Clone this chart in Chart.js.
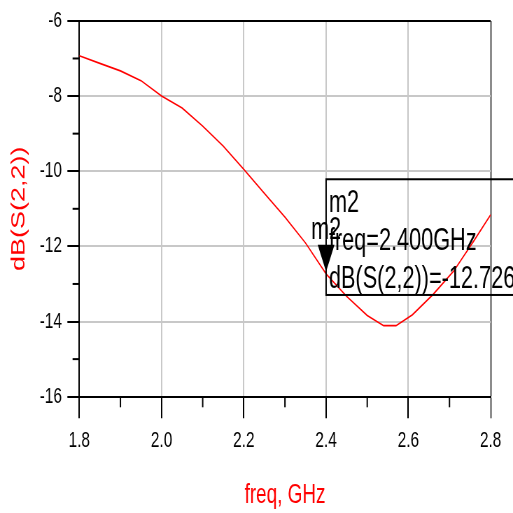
<!DOCTYPE html>
<html>
<head>
<meta charset="utf-8">
<script src="https://cdn.jsdelivr.net/npm/chart.js@4.4.0/dist/chart.umd.min.js"></script>
<style>
html, body { margin: 0; padding: 0; background: #fff; overflow: hidden; }
#wrap { position: absolute; left: 0; top: 0; transform-origin: 0 0; }
</style>
</head>
<body>
<div id="wrap"><canvas id="s22Chart"></canvas></div>
<script>
// datos
const freqGHz = [1.80, 1.85, 1.90, 1.95, 2.00, 2.05, 2.10, 2.15, 2.20, 2.25, 2.30, 2.35, 2.40,
                 2.45, 2.50, 2.54, 2.57, 2.61, 2.66, 2.71, 2.76, 2.80];
const s22dB = [-6.93, -7.13, -7.33, -7.59, -8.00, -8.32, -8.80, -9.33, -9.95, -10.59, -11.22, -11.91, -12.73,
               -13.33, -13.84, -14.11, -14.11, -13.82, -13.28, -12.66, -11.84, -11.16];
const xTicks = [1.8, 2.0, 2.2, 2.4, 2.6, 2.8];
const xMinor = [1.9, 2.1, 2.3, 2.5, 2.7];
const yTicks = [-16, -14, -12, -10, -8, -6];
const yMinor = [-15, -13, -11, -9, -7];
const markerName = 'm2';
const markerFreq = 2.4;
const markerVal = -12.726;

// la imagen original esta comprimida en horizontal
const R = 0.7;
const W = Math.round(513 / R);
const H = 513;
const FONT = "'Liberation Sans', Arial, sans-serif";

const wrap = document.getElementById('wrap');
wrap.style.width = W + 'px';
wrap.style.height = H + 'px';
wrap.style.transform = 'scaleX(' + (513 / W) + ')';
const canvas = document.getElementById('s22Chart');
canvas.width = W;
canvas.height = H;
canvas.style.width = W + 'px';
canvas.style.height = H + 'px';

const plotLeft = 79.3 / R;
const plotRight = 490.7 / R;
const plotTop = 17;
const plotBottom = 396.7;

// ticks menores y marcador m2
const extras = {
    id: 'extras',
    afterDatasetsDraw(chart) {
        const ctx = chart.ctx;
        const x = chart.scales.x, y = chart.scales.y;
        const area = chart.chartArea;
        ctx.save();
        ctx.strokeStyle = '#000';
        ctx.lineWidth = 2;
        xMinor.forEach(function (v) {
            const p = x.getPixelForValue(v);
            ctx.beginPath(); ctx.moveTo(p, area.bottom); ctx.lineTo(p, area.bottom + 10.6); ctx.stroke();
        });
        yMinor.forEach(function (v) {
            const p = y.getPixelForValue(v);
            ctx.beginPath(); ctx.moveTo(area.left, p); ctx.lineTo(area.left - 9.6, p); ctx.stroke();
        });

        const px = x.getPixelForValue(markerFreq);
        const py = y.getPixelForValue(markerVal);
        // triangulo
        ctx.fillStyle = '#000';
        ctx.beginPath();
        ctx.moveTo(px - 12, py - 29);
        ctx.lineTo(px + 12, py - 29);
        ctx.lineTo(px, py - 2);
        ctx.closePath();
        ctx.fill();
        ctx.font = '31px ' + FONT;
        ctx.textAlign = 'center';
        ctx.textBaseline = 'alphabetic';
        ctx.fillText(markerName, px, py - 35);
        // cuadro de texto
        ctx.lineWidth = 2;
        ctx.strokeRect(px, py - 94.4, W, 115.7);
        ctx.textAlign = 'left';
        ctx.fillText(markerName, px + 4, py - 61.7);
        ctx.fillText('freq=' + markerFreq.toFixed(3) + 'GHz', px + 4, py - 23.7);
        ctx.fillText('dB(S(2,2))=' + markerVal.toFixed(3), px + 4, py + 14.3);
        ctx.restore();
    }
};

const ctx = canvas.getContext('2d');
const s22Chart = new Chart(ctx, {
    type: 'line',
    data: {
        datasets: [{
            data: freqGHz.map(function (f, i) { return { x: f, y: s22dB[i] }; }),
            borderColor: '#ff0000',
            borderWidth: 1.6,
            pointRadius: 0,
            tension: 0,
            fill: false
        }]
    },
    options: {
        responsive: false,
        animation: false,
        devicePixelRatio: 1,
        layout: { padding: { top: plotTop, right: W - plotRight, left: 0, bottom: 0 } },
        plugins: { legend: { display: false }, tooltip: { enabled: false } },
        scales: {
            x: {
                type: 'linear',
                min: 1.8,
                max: 2.8,
                afterFit: function (s) { s.height = H - plotBottom; },
                afterBuildTicks: function (s) { s.ticks = xTicks.map(function (v) { return { value: v }; }); },
                ticks: {
                    color: '#000',
                    font: { family: FONT, size: 22 },
                    padding: 9,
                    maxRotation: 0,
                    autoSkip: false,
                    callback: function (v) { return Number(v).toFixed(1); }
                },
                grid: {
                    color: function (c) { return c.tick && c.tick.value === 2.8 ? '#8c8c8c' : '#c8c8c8'; },
                    lineWidth: function (c) { return c.tick && c.tick.value === 2.8 ? 3 : 2; },
                    tickColor: function (c) { return c.tick && c.tick.value === 2.8 ? '#8c8c8c' : '#000'; },
                    tickLength: 21.6
                },
                border: { color: '#000', width: 2 },
                title: {
                    display: true,
                    text: 'freq, GHz',
                    color: '#ff0000',
                    font: { family: FONT, size: 27 },
                    padding: { top: 0, bottom: 1 }
                }
            },
            y: {
                type: 'linear',
                min: -16,
                max: -6,
                afterFit: function (s) { s.width = plotLeft; },
                afterBuildTicks: function (s) { s.ticks = yTicks.map(function (v) { return { value: v }; }); },
                ticks: {
                    color: '#000',
                    font: { family: FONT, size: 22 },
                    padding: 7.7,
                    autoSkip: false
                },
                grid: {
                    color: function (c) { return c.tick && c.tick.value === -6 ? '#000' : '#c8c8c8'; },
                    lineWidth: 2,
                    tickColor: '#000',
                    tickLength: 17
                },
                border: { color: '#000', width: 2 },
                title: {
                    display: true,
                    text: 'dB(S(2,2))',
                    color: '#ff0000',
                    font: { family: FONT, size: 27 },
                    padding: { top: 11.7, bottom: 0 }
                }
            }
        }
    },
    plugins: [extras]
});
</script>
</body>
</html>
